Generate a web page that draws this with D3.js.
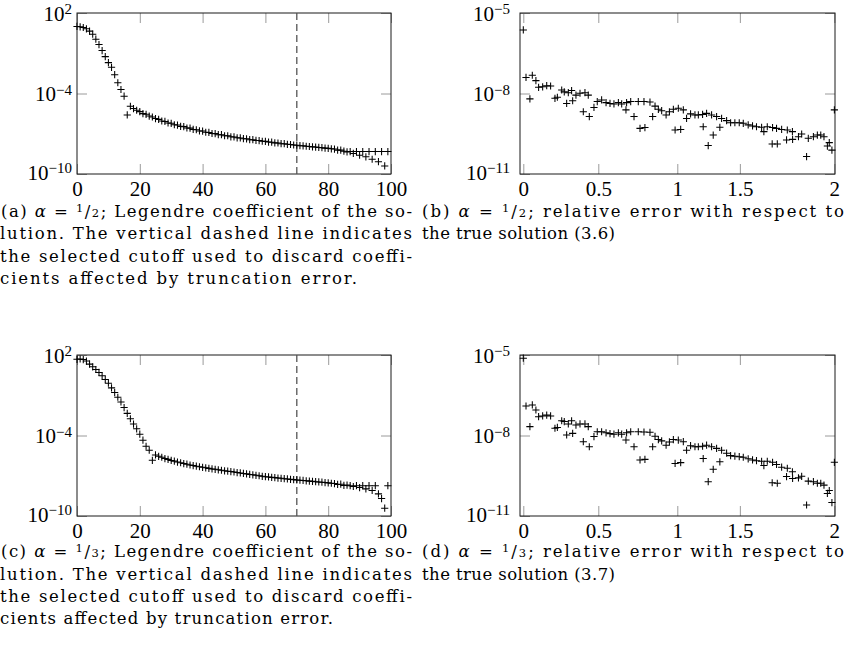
<!DOCTYPE html>
<html><head><meta charset="utf-8">
<script src="https://cdn.jsdelivr.net/npm/d3@7"></script>
<style>
body{margin:0;background:#fff}
svg{display:block}
text{fill:#000}
.ax text, text.ax{font-family:"Liberation Serif","Times New Roman",serif}
text.cap{font-family:"DejaVu Serif",serif}
</style>
</head><body>
<svg id="chart" width="846" height="654"></svg>
<script>
// ---------- data ----------
const coefIndex = d3.range(100);
// log10 of Legendre coefficient magnitude, alpha = 1/2
const coefLogA = [1.0, 0.97, 0.92, 0.82, 0.65, 0.42, 0.05, -0.35, -0.8, -1.25,
 -1.7, -2.05, -2.6, -3.2, -3.7, -4.2, -5.6, -4.95, -5.12, -5.25,
 -5.35, -5.5, -5.55, -5.68, -5.75, -5.87, -5.93, -6.05, -6.08, -6.2,
 -6.22, -6.33, -6.35, -6.45, -6.47, -6.57, -6.58, -6.68, -6.7, -6.79,
 -6.8, -6.89, -6.9, -6.98, -6.99, -7.07, -7.07, -7.15, -7.15, -7.23,
 -7.24, -7.3, -7.31, -7.37, -7.38, -7.44, -7.44, -7.5, -7.51, -7.56,
 -7.57, -7.62, -7.63, -7.68, -7.69, -7.74, -7.74, -7.79, -7.8, -7.84,
 -7.85, -7.89, -7.9, -7.93, -7.95, -7.98, -7.99, -8.02, -8.04, -8.07,
 -8.09, -8.12, -8.14, -8.22, -8.22, -8.3, -8.35, -8.33, -8.47, -8.33,
 -8.6, -8.33, -8.72, -8.33, -8.9, -8.33, -9.08, -8.33, -9.4, -8.33];
// log10 of Legendre coefficient magnitude, alpha = 1/3
const coefLogC = [1.68, 1.7, 1.66, 1.55, 1.32, 1.12, 0.92, 0.7, 0.45, 0.18,
 -0.1, -0.45, -0.8, -1.15, -1.5, -1.92, -2.35, -2.75, -3.15, -3.5,
 -3.9, -4.35, -4.8, -5.1, -5.85, -5.45, -5.55, -5.62, -5.72, -5.78,
 -5.86, -5.91, -5.98, -6.03, -6.09, -6.14, -6.2, -6.24, -6.29, -6.33,
 -6.37, -6.41, -6.45, -6.49, -6.52, -6.56, -6.59, -6.63, -6.66, -6.69,
 -6.72, -6.76, -6.79, -6.83, -6.86, -6.9, -6.93, -6.97, -7.0, -7.04,
 -7.07, -7.09, -7.12, -7.14, -7.17, -7.19, -7.22, -7.24, -7.27, -7.29,
 -7.31, -7.33, -7.35, -7.38, -7.4, -7.42, -7.44, -7.46, -7.48, -7.51,
 -7.53, -7.56, -7.58, -7.65, -7.63, -7.72, -7.7, -7.74, -7.8, -7.74,
 -7.88, -7.74, -7.98, -7.74, -8.1, -7.74, -8.35, -8.7, -9.42, -7.74];
const coefXTicks = [0, 20, 40, 60, 80, 100];
const coefYTicks = [1e2, 1e-4, 1e-10];
const cutoff = 70;

// relative error points
const errX = [0, 0.018, 0.044, 0.06, 0.084, 0.102, 0.129, 0.156, 0.182, 0.211,
 0.227, 0.256, 0.273, 0.289, 0.3, 0.322, 0.329, 0.351, 0.378, 0.4,
 0.411, 0.433, 0.44, 0.471, 0.493, 0.521, 0.549, 0.574, 0.599, 0.627,
 0.648, 0.675, 0.679, 0.705, 0.726, 0.753, 0.764, 0.789, 0.795, 0.827,
 0.844, 0.859, 0.88, 0.901, 0.929, 0.95, 0.975, 0.986, 1.008, 1.027,
 1.048, 1.074, 1.106, 1.141, 1.168, 1.202, 1.207, 1.234, 1.247, 1.274,
 1.287, 1.314, 1.34, 1.354, 1.394, 1.426, 1.46, 1.495, 1.518, 1.544,
 1.567, 1.588, 1.615, 1.627, 1.645, 1.671, 1.673, 1.694, 1.698, 1.721,
 1.747, 1.751, 1.778, 1.779, 1.81, 1.827, 1.853, 1.862, 1.889, 1.91,
 1.928, 1.945, 1.963, 1.973, 1.987, 2.0];
const errLogB = [-5.63, -7.40, -8.20, -7.32, -7.52, -7.77, -7.75, -7.71, -7.72, -8.18,
 -8.14, -7.87, -7.94, -8.37, -7.97, -7.89, -8.27, -8.06, -7.99, -8.68,
 -7.97, -8.06, -8.86, -8.52, -8.30, -8.24, -8.34, -8.37, -8.39, -8.34,
 -8.39, -8.61, -8.34, -8.30, -8.86, -8.30, -9.30, -8.30, -9.27, -8.32,
 -8.86, -8.47, -8.59, -8.64, -8.80, -8.68, -8.59, -9.36, -8.55, -9.34,
 -8.61, -8.93, -8.76, -8.80, -8.80, -8.78, -9.24, -8.74, -9.94, -8.80,
 -9.55, -8.86, -9.26, -8.93, -9.01, -9.09, -9.09, -9.09, -9.11, -9.17,
 -9.21, -9.24, -9.26, -9.42, -9.24, -9.88, -9.27, -9.30, -9.88, -9.34,
 -9.73, -9.36, -9.42, -9.71, -9.61, -9.51, -10.35, -9.67, -9.61, -9.55,
 -9.55, -9.61, -9.96, -9.83, -10.11, -8.61];
const errLogD = [-5.12, -6.90, -7.67, -6.86, -7.05, -7.30, -7.27, -7.24, -7.27, -7.73,
 -7.70, -7.45, -7.48, -7.98, -7.57, -7.45, -7.92, -7.61, -7.57, -8.23,
 -7.57, -7.67, -8.42, -8.04, -7.86, -7.86, -7.90, -7.93, -7.95, -7.90,
 -7.95, -8.17, -7.90, -7.86, -8.42, -7.86, -8.91, -7.87, -8.89, -7.88,
 -8.42, -8.03, -8.15, -8.20, -8.36, -8.24, -8.15, -9.04, -8.17, -9.01,
 -8.23, -8.55, -8.38, -8.42, -8.42, -8.40, -8.86, -8.36, -9.72, -8.42,
 -9.26, -8.48, -8.98, -8.55, -8.66, -8.75, -8.77, -8.79, -8.81, -8.87,
 -8.91, -8.94, -8.96, -9.12, -8.96, -9.76, -9.00, -9.08, -9.78, -9.18,
 -9.53, -9.22, -9.35, -9.60, -9.58, -9.52, -10.59, -9.70, -9.72, -9.78,
 -9.78, -9.85, -10.16, -10.05, -10.50, -9.00];
const errXTicks = [0, 0.5, 1, 1.5, 2];
const errYTicks = [1e-5, 1e-8, 1e-11];

// ---------- layout ----------
const svg = d3.select('#chart');
const TICK = 10, AXFONT = 21, SUPFONT = 15;
const errTickFrac = [0.0105, 0.2486, 0.4994, 0.698, 0.998];
const sup = v => {
  const e = Math.round(Math.log10(v));
  return (e < 0 ? '\u2212' : '') + Math.abs(e);
};

function panel(o) {
  const g = svg.append('g').attr('class', 'ax');
  const {x0, x1, y0, y1, x, y} = o;
  const styleAxis = sel => {
    sel.select('.domain').remove();
    sel.selectAll('.tick line').attr('stroke', '#9a9a9a').attr('stroke-width', 1);
    sel.attr('font-size', AXFONT).attr('font-family', null);
  };
  g.append('g').attr('transform', `translate(0,${y1})`)
    .call(d3.axisBottom(x).tickValues(o.xTicks).tickSize(-TICK).tickPadding(7).tickFormat(d => String(d)))
    .call(styleAxis);
  g.append('g').attr('transform', `translate(0,${y0})`)
    .call(d3.axisTop(x).tickValues(o.xTicks).tickSize(-TICK).tickFormat(''))
    .call(styleAxis);
  g.append('g').attr('transform', `translate(${x0},0)`)
    .call(d3.axisLeft(y).tickValues(o.yTicks).tickSize(-TICK).tickFormat(''))
    .call(styleAxis);
  g.append('g').attr('transform', `translate(${x1},0)`)
    .call(d3.axisRight(y).tickValues(o.yTicks).tickSize(-TICK).tickFormat(''))
    .call(styleAxis);
  g.selectAll('.tick text').attr('fill', '#000');

  // y labels with superscript exponents
  const yl = g.append('g').attr('font-size', AXFONT);
  o.yTicks.forEach((t, i) => {
    const tx = yl.append('text').attr('x', x0 - o.ypad).attr('y', y(t) + (i === o.yTicks.length - 1 ? 5.5 : 7.5))
      .attr('text-anchor', 'end');
    tx.append('tspan').text('10');
    tx.append('tspan').attr('dy', -6.5).attr('font-size', SUPFONT).text(sup(t));
  });

  // frame
  g.append('rect').attr('x', x0).attr('y', y0).attr('width', x1 - x0).attr('height', y1 - y0)
    .attr('fill', 'none').attr('stroke', '#1a1a1a').attr('stroke-width', 1);

  if (o.cut != null) {
    g.append('line').attr('x1', x(o.cut)).attr('x2', x(o.cut)).attr('y1', y0).attr('y2', y1)
      .attr('stroke', '#555').attr('stroke-width', 1.3).attr('stroke-dasharray', '7,4');
  }

  g.append('g').selectAll('path').data(o.pts).join('path')
    .attr('transform', d => `translate(${x(d[0])},${y(d[1])})`)
    .attr('d', 'M-3.6,0H3.6M0,-3.6V3.6')
    .attr('stroke', '#000').attr('stroke-width', 1.05).attr('fill', 'none');
}

function coefPanel(x0, y0, logs) {
  const x1 = x0 + 314, y1 = y0 + 161;
  panel({
    x0, x1, y0, y1,
    x: d3.scaleLinear().domain([0, 100]).range([x0, x1]),
    y: d3.scaleLog().domain([1e-10, 1e2]).range([y1, y0]),
    xTicks: coefXTicks, yTicks: coefYTicks, ypad: 5, cut: cutoff,
    pts: coefIndex.map(i => [i, Math.pow(10, logs[i])])
  });
}
function errPanel(x0, y0, logs) {
  const x1 = x0 + 315, y1 = y0 + 161;
  panel({
    x0, x1, y0, y1,
    x: d3.scaleLinear().domain(errXTicks).range(errTickFrac.map(f => x0 + f * (x1 - x0))),
    y: d3.scaleLog().domain([1e-11, 1e-5]).range([y1, y0]),
    xTicks: errXTicks, yTicks: errYTicks, ypad: 10, cut: null,
    pts: errX.map((v, i) => [v, Math.pow(10, logs[i])])
  });
}

coefPanel(77, 13, coefLogA);
errPanel(520, 13, errLogB);
coefPanel(77, 355, coefLogC);
errPanel(520, 355, errLogD);

// ---------- captions ----------
const CAPFONT = 16.5;
function firstLine(x, yb, letter, den, rest, len) {
  const t = svg.append('text').attr('class', 'cap').attr('x', x).attr('y', yb).attr('font-size', CAPFONT);
  t.append('tspan').text(`(${letter}) `);
  t.append('tspan').attr('font-style', 'italic').text('\u03b1');
  t.append('tspan').text(' = ');
  t.append('tspan').attr('font-size', 11.5).attr('dy', -5).text('1');
  t.append('tspan').attr('dy', 5).text('/');
  t.append('tspan').attr('font-size', 11.5).text(den);
  t.append('tspan').text(rest);
  if (len) t.attr('textLength', len).attr('lengthAdjust', 'spacing');
}
function line(x, yb, s, len) {
  const t = svg.append('text').attr('class', 'cap').attr('x', x).attr('y', yb).attr('font-size', CAPFONT).text(s);
  if (len) t.attr('textLength', len).attr('lengthAdjust', 'spacing');
}
const capLines = ['lution. The vertical dashed line indicates',
  'the selected cutoff used to discard coeffi-',
  'cients affected by truncation error.'];

firstLine(1, 217, 'a', '2', '; Legendre coefficient of the so-', 411);
line(0, 239.3, capLines[0], 412);
line(0, 261.5, capLines[1], 412);
line(0, 283.7, capLines[2], 357);

firstLine(1, 557.3, 'c', '3', '; Legendre coefficient of the so-', 411);
line(0, 579.5, capLines[0], 412);
line(0, 601.7, capLines[1], 412);
line(0, 624, capLines[2], 333);

firstLine(422, 217, 'b', '2', '; relative error with respect to', 422);
line(422, 239.3, 'the true solution (3.6)', 193);
firstLine(422, 557.3, 'd', '3', '; relative error with respect to', 422);
line(422, 579.5, 'the true solution (3.7)', 193);
</script>
</body></html>
